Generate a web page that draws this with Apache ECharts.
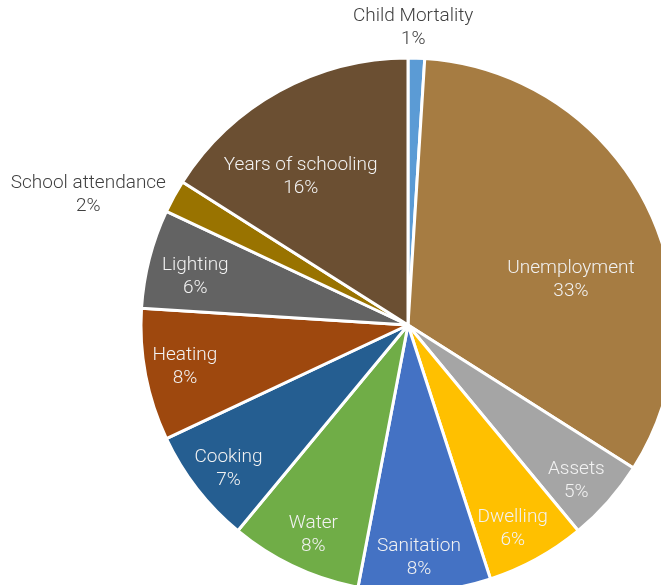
<!DOCTYPE html>
<html>
<head>
<meta charset="utf-8">
<script src="https://cdn.jsdelivr.net/npm/echarts@6/dist/echarts.min.js"></script>
<style>
  html, body { margin: 0; padding: 0; background: #fff; }
  #chart { width: 661px; height: 585px; }
</style>
</head>
<body>
<div id="chart"></div>
<script>
// slices, clockwise from 12 o'clock
const categories = ['Child Mortality', 'Unemployment', 'Assets', 'Dwelling', 'Sanitation',
	'Water', 'Cooking', 'Heating', 'Lighting', 'School attendance', 'Years of schooling'];
const shares = [1, 33, 5, 6, 8, 8, 7, 8, 6, 2, 16];
const colors = ['#5B9BD5', '#A67C42', '#A5A5A5', '#FFC000', '#4472C4',
	'#70AD47', '#255E91', '#9E480E', '#636363', '#997300', '#6B4F32'];

// pie geometry + where each label sits (distance from centre, angle clockwise from top)
const CX = 408, CY = 325, R = 267;
const labelRadius = [297, 169, 229, 229, 233, 230, 230, 227, 218, 345, 183];
const labelAngle = [1, 74.6, 132.7, 152.8, 177.3, 204.3, 231.3, 259.3, 282.7, 292.1, 324.1];
const outside = ['Child Mortality', 'School attendance'];

let chart = echarts.init(document.getElementById('chart'), null, { renderer: 'canvas' });

chart.setOption({
	animation: false,
	series: [{
		type: 'pie',
		center: [CX, CY],
		radius: [0, R],
		startAngle: 90,
		clockwise: true,
		avoidLabelOverlap: false,
		itemStyle: { borderColor: '#fff', borderWidth: 3 },
		label: {
			show: true,
			position: 'inside',
			formatter: p => p.name + '\n' + Math.round(p.percent) + '%',
			fontFamily: 'Roboto',
			fontWeight: 300,
			fontSize: 19,
			lineHeight: 23,
			color: '#f2f2f2',
			align: 'center'
		},
		labelLine: { show: false },
		labelLayout: p => {
			let i = p.dataIndex, a = labelAngle[i] * Math.PI / 180;
			return { x: CX + labelRadius[i] * Math.sin(a), y: CY - labelRadius[i] * Math.cos(a) };
		},
		emphasis: { disabled: true },
		data: categories.map((name, i) => ({
			name,
			value: shares[i],
			itemStyle: { color: colors[i] },
			label: outside.includes(name) ? { color: '#404040' } : undefined
		}))
	}]
});
</script>
</body>
</html>
